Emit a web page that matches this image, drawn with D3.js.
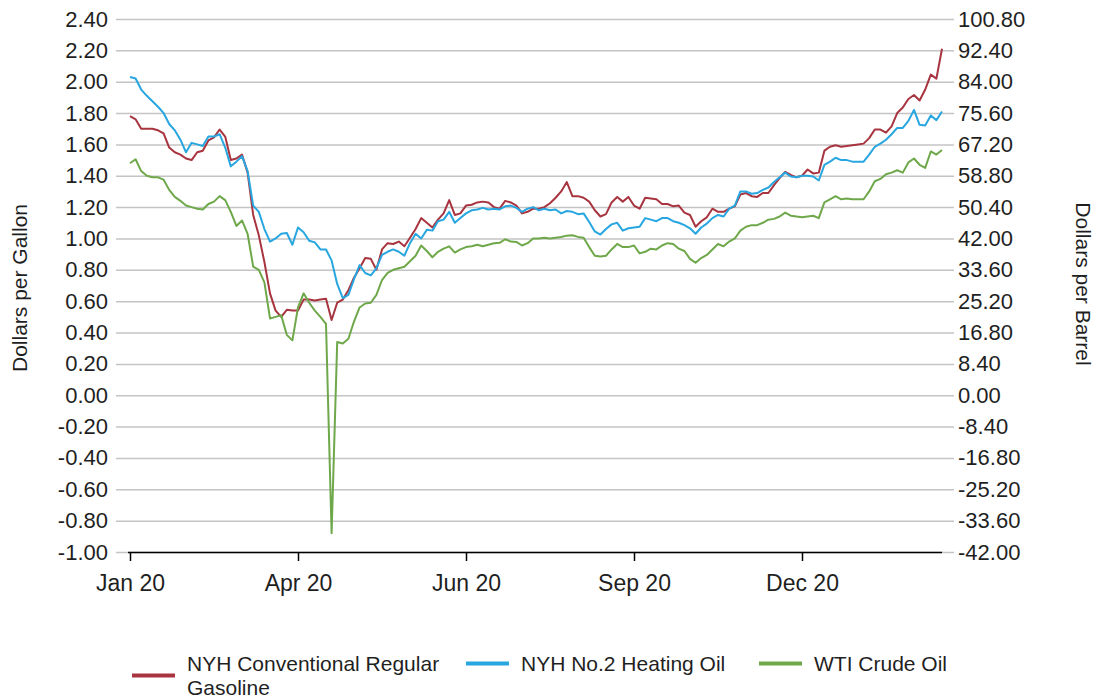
<!DOCTYPE html>
<html>
<head>
<meta charset="utf-8">
<script src="https://cdn.jsdelivr.net/npm/d3@7"></script>
<style>
  html, body { margin: 0; padding: 0; background: #ffffff; }
  svg { display: block; font-family: "Liberation Sans", Arial, sans-serif; }
</style>
</head>
<body>
<svg id="chart" width="1099" height="700"></svg>
<script>
// Daily spot prices, sampled every second trading day (index = sample number)
const gasoline = [
  1.78, 1.76, 1.70, 1.70, 1.70, 1.69, 1.67, 1.58, 1.55, 1.535,
  1.51, 1.50, 1.55, 1.56, 1.625, 1.645, 1.695, 1.65, 1.50, 1.51,
  1.535, 1.42, 1.15, 1.02, 0.85, 0.65, 0.54, 0.50, 0.545, 0.54,
  0.54, 0.61, 0.61, 0.605, 0.61, 0.615, 0.48, 0.59, 0.61, 0.67,
  0.75, 0.81, 0.875, 0.87, 0.80, 0.93, 0.97, 0.965, 0.98, 0.95,
  1.005, 1.06, 1.13, 1.10, 1.07, 1.12, 1.16, 1.245, 1.15, 1.16,
  1.21, 1.215, 1.23, 1.235, 1.23, 1.20, 1.19, 1.24, 1.23, 1.21,
  1.16, 1.17, 1.19, 1.19, 1.20, 1.225, 1.26, 1.30, 1.36, 1.27,
  1.27, 1.26, 1.235, 1.18, 1.14, 1.155, 1.23, 1.265, 1.235, 1.265,
  1.21, 1.19, 1.26, 1.255, 1.25, 1.22, 1.22, 1.205, 1.21, 1.165,
  1.15, 1.075, 1.11, 1.135, 1.19, 1.17, 1.17, 1.19, 1.205, 1.28,
  1.29, 1.27, 1.265, 1.29, 1.29, 1.34, 1.385, 1.425, 1.405, 1.39,
  1.40, 1.44, 1.415, 1.42, 1.56, 1.585, 1.595, 1.585, 1.59, 1.595,
  1.60, 1.605, 1.64, 1.695, 1.695, 1.675, 1.715, 1.80, 1.835, 1.89,
  1.915, 1.88, 1.95, 2.045, 2.02, 2.21
];
const heatingOil = [
  2.03, 2.02, 1.95, 1.91, 1.875, 1.84, 1.80, 1.73, 1.69, 1.63,
  1.55, 1.61, 1.60, 1.59, 1.65, 1.65, 1.665, 1.58, 1.46, 1.49,
  1.525, 1.43, 1.21, 1.17, 1.06, 0.98, 1.00, 1.03, 1.035, 0.96,
  1.07, 1.04, 0.985, 0.975, 0.93, 0.93, 0.86, 0.71, 0.62, 0.64,
  0.74, 0.83, 0.78, 0.765, 0.81, 0.895, 0.915, 0.93, 0.915, 0.89,
  0.97, 1.03, 1.00, 1.055, 1.05, 1.11, 1.12, 1.17, 1.10, 1.13,
  1.16, 1.18, 1.185, 1.195, 1.185, 1.19, 1.185, 1.205, 1.21, 1.195,
  1.17, 1.19, 1.20, 1.18, 1.19, 1.18, 1.185, 1.16, 1.175, 1.17,
  1.155, 1.16, 1.105, 1.045, 1.025, 1.06, 1.09, 1.10, 1.05, 1.065,
  1.07, 1.075, 1.13, 1.12, 1.11, 1.13, 1.13, 1.11, 1.10, 1.085,
  1.065, 1.03, 1.07, 1.095, 1.13, 1.15, 1.14, 1.19, 1.21, 1.30,
  1.30, 1.285, 1.29, 1.31, 1.325, 1.36, 1.39, 1.42, 1.395, 1.39,
  1.40, 1.40, 1.395, 1.37, 1.47, 1.49, 1.515, 1.50, 1.50, 1.49,
  1.49, 1.49, 1.535, 1.585, 1.605, 1.63, 1.665, 1.705, 1.705, 1.75,
  1.82, 1.725, 1.72, 1.785, 1.755, 1.81
];
// WTI in dollars per barrel divided by 42 (gallons per barrel), i.e. plotted on the left scale
const wtiCrude = [
  1.48, 1.505, 1.43, 1.40, 1.39, 1.39, 1.375, 1.31, 1.265, 1.24,
  1.21, 1.20, 1.19, 1.185, 1.22, 1.235, 1.27, 1.245, 1.17, 1.08,
  1.115, 1.03, 0.82, 0.80, 0.72, 0.49, 0.50, 0.51, 0.385, 0.35,
  0.56, 0.65, 0.59, 0.54, 0.50, 0.455, -0.88, 0.34, 0.33, 0.36,
  0.47, 0.56, 0.585, 0.59, 0.64, 0.735, 0.78, 0.80, 0.81, 0.82,
  0.855, 0.89, 0.955, 0.92, 0.88, 0.915, 0.935, 0.95, 0.91, 0.93,
  0.945, 0.95, 0.96, 0.95, 0.96, 0.97, 0.972, 0.995, 0.98, 0.978,
  0.955, 0.97, 1.00, 1.00, 1.005, 1.00, 1.005, 1.01, 1.018, 1.02,
  1.01, 1.005, 0.945, 0.89, 0.885, 0.89, 0.93, 0.965, 0.945, 0.945,
  0.955, 0.905, 0.915, 0.935, 0.93, 0.955, 0.97, 0.965, 0.935, 0.92,
  0.87, 0.845, 0.875, 0.895, 0.93, 0.965, 0.95, 0.98, 1.00, 1.05,
  1.075, 1.085, 1.085, 1.10, 1.12, 1.125, 1.14, 1.165, 1.145, 1.14,
  1.135, 1.14, 1.145, 1.13, 1.23, 1.25, 1.27, 1.25, 1.255, 1.25,
  1.25, 1.25, 1.30, 1.365, 1.38, 1.41, 1.42, 1.435, 1.42, 1.485,
  1.51, 1.47, 1.45, 1.555, 1.535, 1.565
];

const seriesNames = ["NYH Conventional Regular Gasoline", "NYH No.2 Heating Oil", "WTI Crude Oil"];
const seriesColors = ["#a8343f", "#27a6e0", "#6ea84a"];

const leftTicks = [-1.00, -0.80, -0.60, -0.40, -0.20, 0.00, 0.20, 0.40, 0.60, 0.80,
                   1.00, 1.20, 1.40, 1.60, 1.80, 2.00, 2.20, 2.40];
const rightTicks = [-42.00, -33.60, -25.20, -16.80, -8.40, 0.00, 8.40, 16.80, 25.20, 33.60,
                    42.00, 50.40, 58.80, 67.20, 75.60, 84.00, 92.40, 100.80];
const xTickIndex = [0, 30, 60, 90, 120];
const xTickLabels = ["Jan 20", "Apr 20", "Jun 20", "Sep 20", "Dec 20"];

const svg = d3.select("#chart");
const plot = { left: 128, right: 942, top: 19, bottom: 552 };

const x = d3.scaleLinear().domain([0, gasoline.length - 1]).range([130, plot.right]);
const y = d3.scaleLinear().domain([-1.0, 2.4]).range([plot.bottom, plot.top]);
const yRight = d3.scaleLinear().domain([-42, 100.8]).range([plot.bottom, plot.top]);

// Two decimals with a plain hyphen for negatives
const fmt = d => (Math.abs(d) < 1e-9 ? 0 : d).toFixed(2);
const textColor = "#1f1f1f";

// Horizontal gridlines with their short outer ticks on both sides
const leftAxis = d3.axisLeft(y).tickValues(leftTicks).tickFormat(fmt)
  .tickSizeInner(-(plot.right - plot.left) - 12).tickSizeOuter(0).tickPadding(8);
const gL = svg.append("g").attr("transform", `translate(${plot.left - 12},0)`).call(leftAxis);
gL.select(".domain").remove();
gL.selectAll(".tick line").attr("stroke", "#c4c4c4").attr("stroke-width", 1.5)
  .attr("x1", 0).attr("x2", plot.right - plot.left + 24);
gL.selectAll(".tick text").attr("font-size", 22).attr("fill", textColor)
  .attr("font-family", "Liberation Sans, Arial, sans-serif");

const rightAxis = d3.axisRight(yRight).tickValues(rightTicks).tickFormat(fmt)
  .tickSize(0).tickPadding(16);
const gR = svg.append("g").attr("transform", `translate(${plot.right},0)`).call(rightAxis);
gR.select(".domain").remove();
gR.selectAll(".tick text").attr("font-size", 22).attr("fill", textColor)
  .attr("font-family", "Liberation Sans, Arial, sans-serif");

// Bottom axis line and category ticks
const xAxis = d3.axisBottom(x).tickValues(xTickIndex)
  .tickFormat((d, i) => xTickLabels[i]).tickSizeInner(9).tickSizeOuter(0).tickPadding(14);
const gX = svg.append("g").attr("transform", `translate(0,${plot.bottom})`).call(xAxis);
gX.select(".domain").attr("d", `M${plot.left},0.5H${plot.right}`)
  .attr("stroke", "#000").attr("stroke-width", 1.5);
gX.selectAll(".tick line").attr("stroke", "#000").attr("stroke-width", 1.5);
gX.selectAll(".tick text").attr("font-size", 23).attr("fill", textColor)
  .attr("font-family", "Liberation Sans, Arial, sans-serif");

// Price lines
const line = d3.line().x((d, i) => x(i)).y(d => y(d));
[gasoline, heatingOil, wtiCrude].forEach((vals, s) => {
  svg.append("path")
    .datum(vals)
    .attr("fill", "none")
    .attr("stroke", seriesColors[s])
    .attr("stroke-width", 2)
    .attr("stroke-linejoin", "round")
    .attr("d", line);
});

// Axis titles
svg.append("text")
  .attr("transform", "translate(27,288) rotate(-90)")
  .attr("text-anchor", "middle")
  .attr("font-size", 21).attr("fill", textColor)
  .text("Dollars per Gallon");
svg.append("text")
  .attr("transform", "translate(1076,284) rotate(90)")
  .attr("text-anchor", "middle")
  .attr("font-size", 21).attr("fill", textColor)
  .text("Dollars per Barrel");

// Legend
const legendItems = [
  { lines: ["NYH Conventional Regular", "Gasoline"], sx: 132, ty: 671 },
  { lines: ["NYH No.2 Heating Oil"], sx: 466, ty: 671 },
  { lines: ["WTI Crude Oil"], sx: 759, ty: 671 }
];
legendItems.forEach((item, s) => {
  const nLines = item.lines.length;
  const swY = item.ty - 7.5 + (nLines - 1) * 12;
  svg.append("line")
    .attr("x1", item.sx).attr("x2", item.sx + 43)
    .attr("y1", swY).attr("y2", swY)
    .attr("stroke", seriesColors[s]).attr("stroke-width", 4);
  const t = svg.append("text")
    .attr("x", item.sx + 55).attr("y", item.ty)
    .attr("font-size", 21).attr("fill", textColor);
  item.lines.forEach((ln, j) => {
    t.append("tspan").attr("x", item.sx + 55).attr("dy", j === 0 ? 0 : 24).text(ln);
  });
});
</script>
</body>
</html>
